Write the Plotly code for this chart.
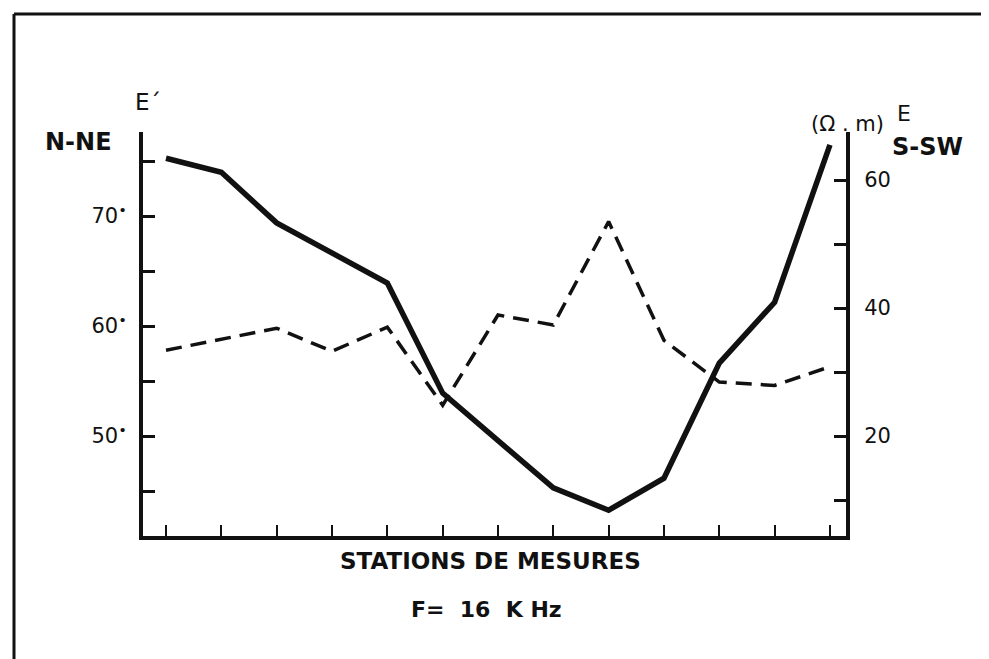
import plotly.graph_objects as go

# Stations de mesures (13 stations)
stations = [1, 2, 3, 4, 5, 6, 7, 8, 9, 10, 11, 12, 13]
# E' (degrees, N-NE) - dashed line, left axis
e_prime_deg = [57.8, 58.8, 59.8, 57.7, 59.9, 52.8, 61.0, 60.1, 69.5, 58.7, 54.9, 54.6, 56.3]
# E (ohm.m, S-SW) - solid line, right axis
e_ohm_m = [63.4, 61.2, 53.3, 48.6, 43.9, 26.7, 19.2, 11.9, 8.4, 13.4, 31.4, 40.9, 65.5]

left_tickvals = [50, 60, 70]
left_ticktext = ["50<sup>•</sup>", "60<sup>•</sup>", "70<sup>•</sup>"]
right_tickvals = [20, 40, 60]
right_ticktext = ["20", "40", "60"]

FONT = "DejaVu Sans"
INK = "#111111"

fig = go.Figure()
fig.add_trace(go.Scatter(x=stations, y=e_prime_deg, mode="lines",
                         line=dict(color=INK, width=3.5, dash="16px,9px"),
                         yaxis="y", showlegend=False, hoverinfo="skip"))
fig.add_trace(go.Scatter(x=stations, y=e_ohm_m, mode="lines",
                         line=dict(color=INK, width=5.5),
                         yaxis="y2", showlegend=False, hoverinfo="skip"))

W, H = 989, 659
OFF = 8  # page body margin compensation
L, R, T, B = 143 - OFF, 846 - OFF, 132 - OFF, 536 - OFF


def px(x):
    return (x - OFF - L) / (R - L)


def py(y):
    return (B - (y - OFF)) / (B - T)


fig.update_layout(
    width=W, height=H,
    margin=dict(l=L, r=W - R, t=T, b=H - B),
    paper_bgcolor="white", plot_bgcolor="white",
    font=dict(family=FONT, color=INK, size=20),
    xaxis=dict(range=[0.584, 13.29], tickvals=stations, showticklabels=False,
               ticks="inside", ticklen=11, tickwidth=2, tickcolor=INK,
               showline=True, linewidth=4, linecolor=INK, showgrid=False, zeroline=False),
    yaxis=dict(range=[40.91, 77.64], tickvals=left_tickvals, ticktext=left_ticktext,
               ticks="inside", ticklen=12, tickwidth=3, tickcolor=INK,
               minor=dict(dtick=5, tick0=0, ticks="inside", ticklen=12, tickwidth=3,
                          tickcolor=INK, showgrid=False),
               ticklabelstandoff=8,
               tickfont=dict(family=FONT, size=21, color=INK),
               showline=True, linewidth=4, linecolor=INK, showgrid=False, zeroline=False),
    yaxis2=dict(range=[4.375, 67.5], overlaying="y", side="right",
                tickvals=right_tickvals, ticktext=right_ticktext,
                ticks="inside", ticklen=12, tickwidth=3, tickcolor=INK,
                minor=dict(dtick=10, tick0=0, ticks="inside", ticklen=12, tickwidth=3,
                           tickcolor=INK, showgrid=False),
                ticklabelstandoff=10,
                tickfont=dict(family=FONT, size=21, color=INK),
                showline=True, linewidth=4, linecolor=INK, showgrid=False, zeroline=False),
)

# outer frame (left and top edges)
fig.add_shape(type="line", xref="paper", yref="paper",
              x0=px(14), y0=py(14), x1=px(1000), y1=py(14),
              line=dict(color=INK, width=3))
fig.add_shape(type="line", xref="paper", yref="paper",
              x0=px(14), y0=py(14), x1=px(14), y1=py(670),
              line=dict(color=INK, width=3))

NB = "\u00a0"
annos = [
    ("E´", 148, 102, 23, False),
    ("N-NE", 78, 142, 24, True),
    ("(Ω" + NB + "." + NB + "m)", 847, 124, 21, False),
    ("E", 904, 114, 22, False),
    ("S-SW", 927, 147, 24, True),
    ("STATIONS DE MESURES", 490, 561, 23, True),
    ("F=" + NB * 2 + "16" + NB * 2 + "K" + NB + "Hz", 486, 609, 22, True),
]
for text, x, y, size, bold in annos:
    fig.add_annotation(text=f"<b>{text}</b>" if bold else text,
                       xref="paper", yref="paper", x=px(x), y=py(y),
                       xanchor="center", yanchor="middle", showarrow=False,
                       font=dict(family=FONT, size=size, color=INK))

fig.write_html("out.html")
